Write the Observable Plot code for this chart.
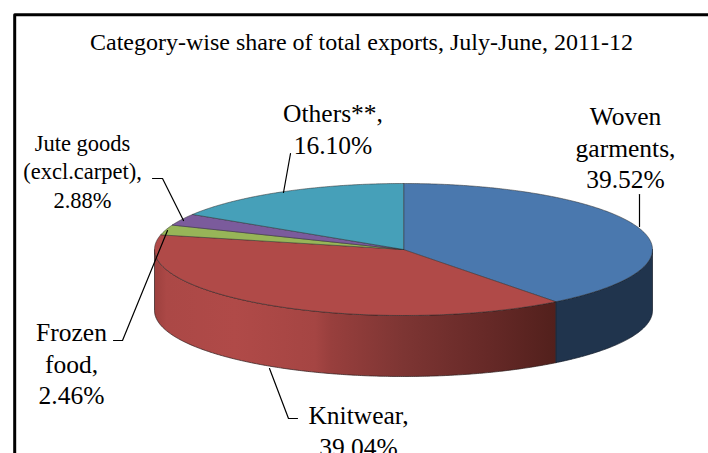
<!DOCTYPE html>
<html>
<head>
<meta charset="utf-8">
<script src="https://cdn.jsdelivr.net/npm/d3@7"></script>
<script src="https://cdn.jsdelivr.net/npm/@observablehq/plot@0.6"></script>
<style>
html,body{margin:0;padding:0;background:#fff;overflow:hidden}
svg{display:block}
</style>
</head>
<body>
<div id="chart"></div>
<script>
// Data
const categories = ["Woven garments", "Knitwear", "Frozen food", "Jute goods (excl.carpet)", "Others**"];
const shares = [39.52, 39.04, 2.46, 2.88, 16.10];
const sliceColors = ["#4a78ae", "#b04a48", "#97b558", "#7b5b9c", "#46a0b9"];
const chartTitle = "Category-wise share of total exports, July-June, 2011-12";

// Layout, in page pixels
const W = 708, H = 453;
const cx = 403, cy = 249, rx = 249, ry = 66, depth = 61;
const ux = p => (p - cx) / rx, uy = p => (cy - p) / ry;
const wallDrop = depth / ry;

const bigLabels = [
  {px: 625, py: 125, text: "Woven\ngarments,\n39.52%"},
  {px: 332.5, py: 122, text: "Others**,\n16.10%"},
  {px: 71, py: 341, text: "Frozen\nfood,\n2.46%"},
  {px: 358, py: 424, text: "Knitwear,\n39.04%"}
];
const smallLabels = [{px: 82, py: 150, text: "Jute goods\n(excl.carpet),\n2.88%"}];
const leaders = [
  [[639,194],[639,226]],
  [[290,153],[283,192]],
  [[152,178],[162,178],[183,220]],
  [[113,340],[122,340],[167,230]],
  [[297,418],[288,418],[269,368]]
];

// Slices: unit-ellipse outlines from the shares (clockwise from the top)
const rad = d => d * Math.PI / 180;
const pt = (deg, drop = 0) => ({x: Math.sin(rad(deg)), y: Math.cos(rad(deg)) - drop});
const arc = (a, b) => {
  const n = Math.max(2, Math.ceil(Math.abs(b - a) * 2));
  return d3.range(n + 1).map(i => a + (b - a) * i / n);
};
const starts = d3.cumsum([0, ...shares]).slice(0, shares.length);
const slices = categories.map((c, i) => ({c, a: starts[i] * 3.6, b: (starts[i] + shares[i]) * 3.6}));
const topFace = slices.flatMap(({c, a, b}) =>
  [{x: 0, y: 0, c}, ...arc(a, b).map(t => ({...pt(t), c}))]);
const wall = slices.flatMap(({c, a, b}) => {
  const s = Math.max(a, 90), e = Math.min(b, 270);
  if (s >= e) return [];
  const ts = arc(s, e);
  return [...ts.map(t => ({...pt(t), c})), ...ts.reverse().map(t => ({...pt(t, wallDrop), c}))];
});

// Gradient for the red wall
const defs = () => {
  const d = d3.create("svg:defs");
  const g = d.append("linearGradient").attr("id", "redWall").attr("x1", 0).attr("x2", 1).attr("y1", 0).attr("y2", 0);
  [[0, "#9c403e"], [0.03, "#ab4846"], [0.2, "#b04a48"], [0.4, "#a54543"], [0.44, "#983f3d"], [0.62, "#7d3533"], [0.85, "#642826"], [1, "#52201c"]]
    .forEach(([o, c]) => g.append("stop").attr("offset", o).attr("stop-color", c));
  return d.node();
};

const frameLine = [{x: ux(14.2), y: uy(H + 5)}, {x: ux(14.2), y: uy(14.2)}, {x: ux(W + 5), y: uy(14.2)}];

const chartNode = Plot.plot({
  width: W, height: H,
  marginTop: 0, marginRight: 0, marginBottom: 0, marginLeft: 0,
  style: {background: "#fff", overflow: "hidden"},
  x: {domain: [ux(0), ux(W)], range: [0, W], axis: null},
  y: {domain: [uy(0), uy(H)], range: [0, H], axis: null},
  color: {domain: categories, range: sliceColors},
  marks: [
    defs,
    Plot.line(frameLine, {x: "x", y: "y", stroke: "#000", strokeWidth: 3}),
    Plot.line(wall.filter(d => d.c === categories[1]), {x: "x", y: "y", curve: "linear-closed", fill: "url(#redWall)", stroke: "#2a1a1a", strokeWidth: 0.7}),
    Plot.line(wall.filter(d => d.c === categories[0]), {x: "x", y: "y", curve: "linear-closed", fill: "#20344d", stroke: "#111a26", strokeWidth: 0.7}),
    Plot.line(topFace, {x: "x", y: "y", z: "c", fill: "c", curve: "linear-closed", stroke: "#2b2b2b", strokeWidth: 0.7, strokeOpacity: 0.75}),
    ...leaders.map(l => Plot.line(l, {x: d => ux(d[0]), y: d => uy(d[1]), stroke: "#000", strokeWidth: 1.2})),
    Plot.text([chartTitle], {x: ux(361), y: uy(48), text: d => d, fontFamily: "Liberation Serif", fontSize: 24, fill: "#000", lineAnchor: "bottom", dy: 1}),
    Plot.text(bigLabels, {x: d => ux(d.px), y: d => uy(d.py), text: "text", fontFamily: "Liberation Serif", fontSize: 25.5, lineHeight: 1.24, fill: "#000", lineAnchor: "top", dy: -23}),
    Plot.text(smallLabels, {x: d => ux(d.px), y: d => uy(d.py), text: "text", fontFamily: "Liberation Serif", fontSize: 22.5, lineHeight: 1.27, fill: "#000", lineAnchor: "top", dy: -20})
  ]
});
document.getElementById("chart").append(chartNode);
</script>
</body>
</html>
